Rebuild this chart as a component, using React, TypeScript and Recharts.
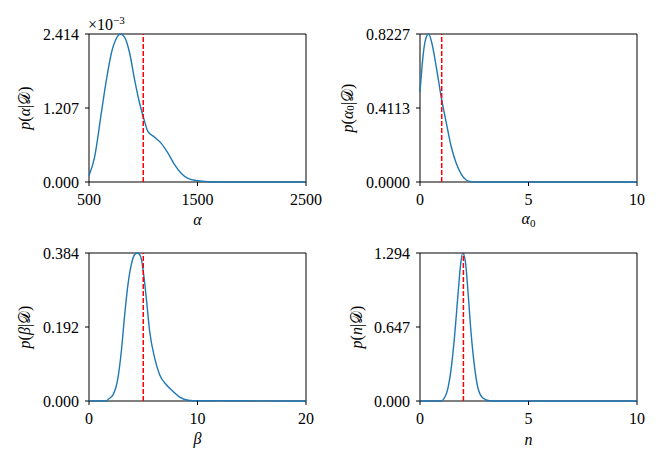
import React from "react";
import { LineChart, Line, XAxis, YAxis, ReferenceLine, ReferenceArea } from "recharts";

const FONT = "Liberation Serif, DejaVu Serif, serif";
const BLUE = "#1f77b4";
const RED = "#ff0000";

// p(alpha|D), density shown in units of 1e-3
const alphaX = [500, 552, 613, 660, 706, 752, 790, 829, 875, 921, 967, 1004, 1044, 1105, 1166, 1228, 1290, 1351, 1412, 1505, 1600, 1700, 2500];
const alphaY = [0.1, 0.41, 1.12, 1.66, 2.1, 2.34, 2.414, 2.36, 2.1, 1.66, 1.28, 1.04, 0.82, 0.73, 0.63, 0.47, 0.28, 0.14, 0.06, 0.02, 0.005, 0, 0];
const alphaTicksX = [500, 1500, 2500];
const alphaTicksY = [0, 1.207, 2.414];
const alphaTickLabels = ["0.000", "1.207", "2.414"];
const alphaTrue = 1000;

// p(alpha0|D)
const alpha0X = [0, 0.14, 0.25, 0.4, 0.55, 0.75, 0.98, 1.21, 1.44, 1.67, 1.9, 2.13, 2.36, 2.6, 10];
const alpha0Y = [0.5, 0.7, 0.79, 0.8227, 0.77, 0.64, 0.47, 0.33, 0.196, 0.104, 0.044, 0.011, 0.002, 0, 0];
const alpha0TicksX = [0, 5, 10];
const alpha0TicksY = [0, 0.41135, 0.8227];
const alpha0TickLabels = ["0.0000", "0.4113", "0.8227"];
const alpha0True = 1;

// p(beta|D)
const betaX = [0, 1.6, 1.75, 2.21, 2.67, 2.98, 3.29, 3.59, 3.9, 4.21, 4.45, 4.76, 5.04, 5.28, 5.59, 6.05, 6.51, 7.13, 7.74, 8.36, 9.12, 10, 12, 14, 20];
const betaY = [0, 0, 0.004, 0.016, 0.06, 0.129, 0.224, 0.302, 0.354, 0.38, 0.384, 0.375, 0.328, 0.267, 0.181, 0.112, 0.068, 0.042, 0.025, 0.01, 0.002, 0.0005, 0.001, 0.0005, 0];
const betaTicksX = [0, 10, 20];
const betaTicksY = [0, 0.192, 0.384];
const betaTickLabels = ["0.000", "0.192", "0.384"];
const betaTrue = 5;

// p(n|D)
const nX = [0, 0.98, 1.06, 1.29, 1.44, 1.6, 1.75, 1.87, 1.97, 2.09, 2.21, 2.36, 2.52, 2.67, 2.9, 3.2, 3.5, 10];
const nY = [0, 0, 0.01, 0.114, 0.289, 0.58, 0.93, 1.19, 1.294, 1.22, 0.96, 0.58, 0.289, 0.114, 0.026, 0.002, 0, 0];
const nTicksX = [0, 5, 10];
const nTicksY = [0, 0.647, 1.294];
const nTickLabels = ["0.000", "0.647", "1.294"];
const nTrue = 2;

const W = 332;
const H = 233;
const PLOT_LEFT = 89;
const PLOT_W = 217;
const PLOT_H = 148;

const tickStyle = { fill: "#000", fontSize: 16, fontFamily: FONT };

function Panel({ left, top, plotTop, xs, ys, xTicks, yTicks, yLabels, truth }: any) {
  const data = xs.map((x: number, i: number) => ({ x, y: ys[i] }));
  const xMin = xTicks[0];
  const xMax = xTicks[xTicks.length - 1];
  const yMax = yTicks[yTicks.length - 1];
  const bottom = H - plotTop - PLOT_H - 30;
  return (
    <div style={{ position: "absolute", left, top }}>
      <LineChart
        width={W}
        height={H}
        data={data}
        margin={{ top: plotTop, right: W - PLOT_LEFT - PLOT_W, bottom, left: PLOT_LEFT - 60 }}
      >
        <XAxis
          dataKey="x"
          type="number"
          domain={[xMin, xMax]}
          ticks={xTicks}
          interval={0}
          height={30}
          axisLine={false}
          tickLine={{ stroke: "#000" }}
          tickSize={4}
          tickMargin={8}
          tick={tickStyle}
        />
        <YAxis
          type="number"
          domain={[0, yMax]}
          ticks={yTicks}
          interval={0}
          width={60}
          axisLine={false}
          tickLine={{ stroke: "#000" }}
          tickSize={4}
          tickMargin={6}
          tick={tickStyle}
          tickFormatter={(v: number) => yLabels[yTicks.indexOf(v)] ?? String(v)}
        />
        <Line
          type="monotone"
          dataKey="y"
          stroke={BLUE}
          strokeWidth={1.4}
          dot={false}
          activeDot={false}
          isAnimationActive={false}
        />
        <ReferenceLine x={truth} stroke={RED} strokeWidth={1.5} strokeDasharray="5 2" />
        <ReferenceArea x1={xMin} x2={xMax} y1={0} y2={yMax} fill="none" stroke="#000" strokeWidth={1} />
      </LineChart>
    </div>
  );
}

export default function App() {
  const txt = { fontSize: 16, fill: "#000", fontFamily: FONT };
  return (
    <div style={{ position: "absolute", left: 0, top: 0, width: 664, height: 466, background: "#fff" }}>
      <Panel left={0} top={0} plotTop={34} xs={alphaX} ys={alphaY} xTicks={alphaTicksX} yTicks={alphaTicksY} yLabels={alphaTickLabels} truth={alphaTrue} />
      <Panel left={331} top={0} plotTop={34} xs={alpha0X} ys={alpha0Y} xTicks={alpha0TicksX} yTicks={alpha0TicksY} yLabels={alpha0TickLabels} truth={alpha0True} />
      <Panel left={0} top={233} plotTop={20} xs={betaX} ys={betaY} xTicks={betaTicksX} yTicks={betaTicksY} yLabels={betaTickLabels} truth={betaTrue} />
      <Panel left={331} top={233} plotTop={20} xs={nX} ys={nY} xTicks={nTicksX} yTicks={nTicksY} yLabels={nTickLabels} truth={nTrue} />

      <svg width={664} height={466} style={{ position: "absolute", left: 0, top: 0, pointerEvents: "none" }}>
        {/* offset text */}
        <text x={88} y={30} {...txt}>
          ×10<tspan dy={-6} fontSize={11}>−3</tspan>
        </text>

        {/* x labels */}
        <text x={197.5} y={225} textAnchor="middle" {...txt} fontStyle="italic">α</text>
        <text x={528.5} y={224} textAnchor="middle" {...txt}>
          <tspan fontStyle="italic">α</tspan>
          <tspan dy={3} fontSize={11}>0</tspan>
        </text>
        <text x={197.5} y={444} textAnchor="middle" {...txt} fontStyle="italic">β</text>
        <text x={528.5} y={445} textAnchor="middle" {...txt} fontStyle="italic">n</text>

        {/* y labels */}
        <text transform="translate(24,108) rotate(-90)" textAnchor="middle" dominantBaseline="central" {...txt}>
          <tspan fontStyle="italic">p</tspan>(<tspan fontStyle="italic">α</tspan>|𝒟)
        </text>
        <text transform="translate(347,108) rotate(-90)" textAnchor="middle" dominantBaseline="central" {...txt}>
          <tspan fontStyle="italic">p</tspan>(<tspan fontStyle="italic">α</tspan>
          <tspan dy={3} fontSize={11}>0</tspan>
          <tspan dy={-3}>|𝒟)</tspan>
        </text>
        <text transform="translate(24,327) rotate(-90)" textAnchor="middle" dominantBaseline="central" {...txt}>
          <tspan fontStyle="italic">p</tspan>(<tspan fontStyle="italic">β</tspan>|𝒟)
        </text>
        <text transform="translate(356,327) rotate(-90)" textAnchor="middle" dominantBaseline="central" {...txt}>
          <tspan fontStyle="italic">p</tspan>(<tspan fontStyle="italic">n</tspan>|𝒟)
        </text>
      </svg>
    </div>
  );
}
